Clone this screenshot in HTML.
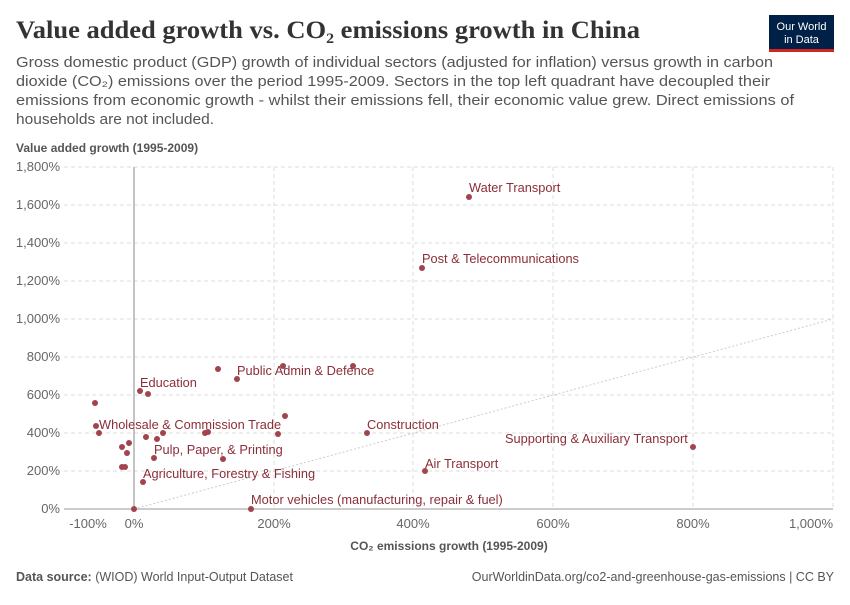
<!DOCTYPE html><html><head><meta charset="utf-8"><style>
body{margin:0;background:#fff;font-family:"Liberation Sans",sans-serif;}
</style></head><body>
<svg width="850" height="600" xmlns="http://www.w3.org/2000/svg" font-family="Liberation Sans, sans-serif">
<text x="16" y="38" font-family="Liberation Serif, serif" font-size="25" font-weight="bold" fill="#333" textLength="624" lengthAdjust="spacingAndGlyphs">Value added growth vs. CO<tspan font-size="15" dy="5">2</tspan><tspan dy="-5"> emissions growth in China</tspan></text>
<rect x="769" y="15" width="65" height="34" fill="#002147"/><rect x="769" y="49" width="65" height="3" fill="#ce261e"/>
<text x="801.5" y="30" font-size="11" fill="#fff" text-anchor="middle">Our World</text>
<text x="801.5" y="43" font-size="11" fill="#fff" text-anchor="middle">in Data</text>
<g font-size="14.5" fill="#555">
<text x="16" y="67" textLength="757" lengthAdjust="spacingAndGlyphs">Gross domestic product (GDP) growth of individual sectors (adjusted for inflation) versus growth in carbon</text>
<text x="16" y="86" textLength="754" lengthAdjust="spacingAndGlyphs">dioxide (CO₂) emissions over the period 1995-2009. Sectors in the top left quadrant have decoupled their</text>
<text x="16" y="105" textLength="778" lengthAdjust="spacingAndGlyphs">emissions from economic growth - whilst their emissions fell, their economic value grew. Direct emissions of</text>
<text x="16" y="124" textLength="198" lengthAdjust="spacingAndGlyphs">households are not included.</text>
</g>
<text x="16" y="152" font-size="12" font-weight="bold" fill="#555">Value added growth (1995-2009)</text>
<g stroke="#ddd" stroke-dasharray="4,3">
<line x1="64" x2="833" y1="167" y2="167"/><line x1="64" x2="833" y1="205" y2="205"/><line x1="64" x2="833" y1="243" y2="243"/><line x1="64" x2="833" y1="281" y2="281"/><line x1="64" x2="833" y1="319" y2="319"/><line x1="64" x2="833" y1="357" y2="357"/><line x1="64" x2="833" y1="395" y2="395"/><line x1="64" x2="833" y1="433" y2="433"/><line x1="64" x2="833" y1="471" y2="471"/>
<line x1="274" x2="274" y1="167" y2="509"/><line x1="413" x2="413" y1="167" y2="509"/><line x1="553" x2="553" y1="167" y2="509"/><line x1="693" x2="693" y1="167" y2="509"/><line x1="833" x2="833" y1="167" y2="509"/>
</g>
<line x1="134" x2="134" y1="167" y2="509" stroke="#888"/>
<line x1="64" x2="833" y1="509" y2="509" stroke="#999"/>
<line x1="134" y1="509" x2="833" y2="319" stroke="#ccc" stroke-dasharray="2,2"/>
<g font-size="13" fill="#666" text-anchor="end">
<text x="60" y="171">1,800%</text><text x="60" y="209">1,600%</text><text x="60" y="247">1,400%</text><text x="60" y="285">1,200%</text><text x="60" y="323">1,000%</text><text x="60" y="361">800%</text><text x="60" y="399">600%</text><text x="60" y="437">400%</text><text x="60" y="475">200%</text><text x="60" y="513">0%</text>
</g>
<g font-size="13" fill="#666" text-anchor="middle">
<text x="88" y="528">-100%</text><text x="134" y="528">0%</text><text x="274" y="528">200%</text><text x="413" y="528">400%</text><text x="553" y="528">600%</text><text x="693" y="528">800%</text><text x="811" y="528">1,000%</text>
</g>
<text x="449" y="550" font-size="12" font-weight="bold" fill="#555" text-anchor="middle">CO₂ emissions growth (1995-2009)</text>
<g fill="#a2444d">
<circle cx="469" cy="197" r="3"/><circle cx="422" cy="268" r="3"/><circle cx="218" cy="369" r="3"/><circle cx="237" cy="379" r="3"/><circle cx="283" cy="366" r="3"/><circle cx="353" cy="366" r="3"/><circle cx="140" cy="391" r="3"/><circle cx="148" cy="394" r="3"/><circle cx="95" cy="403" r="3"/><circle cx="96" cy="426" r="3"/><circle cx="99" cy="433" r="3"/><circle cx="285" cy="416" r="3"/><circle cx="146" cy="437" r="3"/><circle cx="157" cy="439" r="3"/><circle cx="163" cy="433" r="3"/><circle cx="205" cy="433" r="3"/><circle cx="208" cy="432" r="3"/><circle cx="278" cy="434" r="3"/><circle cx="367" cy="433" r="3"/><circle cx="129" cy="443" r="3"/><circle cx="122" cy="447" r="3"/><circle cx="127" cy="453" r="3"/><circle cx="154" cy="458" r="3"/><circle cx="223" cy="459" r="3"/><circle cx="122" cy="467" r="3"/><circle cx="125" cy="467" r="3"/><circle cx="143" cy="482" r="3"/><circle cx="134" cy="509" r="3"/><circle cx="251" cy="509" r="3"/><circle cx="693" cy="447" r="3"/><circle cx="425" cy="471" r="3"/>
</g>
<g font-size="12.8" fill="#8b2e39">
<text x="469" y="192">Water Transport</text><text x="422" y="263">Post &amp; Telecommunications</text><text x="237" y="375">Public Admin &amp; Defence</text><text x="140" y="387">Education</text><text x="99" y="429">Wholesale &amp; Commission Trade</text><text x="367" y="429">Construction</text><text x="154" y="454">Pulp, Paper, &amp; Printing</text><text x="505" y="443">Supporting &amp; Auxiliary Transport</text><text x="425" y="468">Air Transport</text><text x="143" y="478">Agriculture, Forestry &amp; Fishing</text><text x="251" y="504">Motor vehicles (manufacturing, repair &amp; fuel)</text>
</g>
<text x="16" y="581" font-size="12.5" fill="#555"><tspan font-weight="bold">Data source:</tspan> (WIOD) World Input-Output Dataset</text>
<text x="834" y="581" font-size="12.5" fill="#555" text-anchor="end">OurWorldinData.org/co2-and-greenhouse-gas-emissions | CC BY</text>
</svg>
</body></html>
